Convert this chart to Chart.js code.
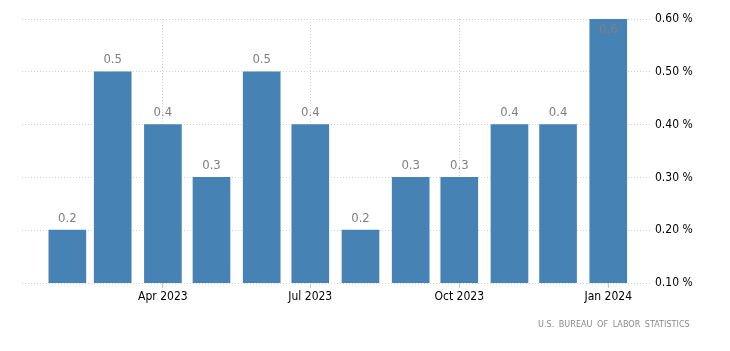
<!DOCTYPE html>
<html>
<head>
<meta charset="utf-8">
<script src="https://cdn.jsdelivr.net/npm/chart.js@4"></script>
<style>
	body { margin: 0; background: #fff; }
	#wrap { position: relative; width: 730px; height: 351px; }
	#source {
		position: absolute; left: 538px; top: 319px;
		font: 9px "DejaVu Sans Condensed", sans-serif;
		color: #8a8a8a; letter-spacing: 0; word-spacing: 2px;
		white-space: nowrap;
	}
</style>
</head>
<body>
<div id="wrap">
	<canvas id="cpiChart" width="730" height="351"></canvas>
	<div id="source">U.S. BUREAU OF LABOR STATISTICS</div>
</div>
<script>
//monthly change, Feb 2023 - Jan 2024

const months = ['Feb 2023', 'Mar 2023', 'Apr 2023', 'May 2023', 'Jun 2023', 'Jul 2023',
	'Aug 2023', 'Sep 2023', 'Oct 2023', 'Nov 2023', 'Dec 2023', 'Jan 2024'];
//days since 1 Feb 2023, so bars sit on a time-like axis
const dayOffsets = [0, 28, 59, 89, 120, 150, 181, 212, 242, 273, 303, 334];
const values = [0.2, 0.5, 0.4, 0.3, 0.5, 0.4, 0.2, 0.3, 0.3, 0.4, 0.4, 0.6];

const tickDays = [59, 150, 242, 334];
const tickLabels = ['Apr 2023', 'Jul 2023', 'Oct 2023', 'Jan 2024'];

const FONT = '"DejaVu Sans Condensed", sans-serif';

//value labels above bars (inside when no room)

const valueLabels = {
	id: 'valueLabels',
	afterDatasetsDraw(chart) {
		const ctx = chart.ctx;
		const meta = chart.getDatasetMeta(0);
		ctx.save();
		ctx.font = '13px ' + FONT;
		ctx.fillStyle = '#808080';
		ctx.textAlign = 'center';
		ctx.textBaseline = 'middle';
		meta.data.forEach((bar, i) => {
			let y = bar.y - 12;
			if (y < chart.chartArea.top + 2) y = bar.y + 11;
			ctx.fillText(values[i].toFixed(1), bar.x, y);
		});
		ctx.restore();
	}
};

const ctx = document.getElementById('cpiChart').getContext('2d');
const chart = new Chart(ctx, {
	type: 'bar',
	data: {
		datasets: [{
			data: dayOffsets.map((d, i) => ({ x: d, y: values[i] })),
			backgroundColor: '#4682b4',
			borderWidth: 0,
			barThickness: 37
		}]
	},
	options: {
		responsive: false,
		animation: false,
		layout: { padding: { left: 22, top: 19, right: 0, bottom: 0 } },
		plugins: {
			legend: { display: false },
			tooltip: { enabled: false }
		},
		scales: {
			x: {
				type: 'linear',
				min: -28,
				max: 361,
				offset: false,
				afterBuildTicks(scale) {
					scale.ticks = tickDays.map(v => ({ value: v }));
				},
				afterFit(scale) { scale.height = 68; },
				ticks: {
					autoSkip: false,
					maxRotation: 0,
					padding: 2,
					color: '#000',
					font: { family: FONT, size: 12 },
					callback: (v) => tickLabels[tickDays.indexOf(v)]
				},
				grid: { offset: false, color: '#d0d0d0', tickLength: 5, tickColor: '#c8c8c8' },
				border: { display: false, dash: [1, 2] }
			},
			y: {
				position: 'right',
				min: 0.1,
				max: 0.6,
				afterFit(scale) { scale.width = 78; },
				ticks: {
					stepSize: 0.1,
					padding: 3,
					color: '#000',
					font: { family: FONT, size: 12 },
					callback: (v) => v.toFixed(2) + ' %'
				},
				grid: { color: '#d0d0d0', drawTicks: false },
				border: { display: false, dash: [1, 2] }
			}
		}
	},
	plugins: [valueLabels]
});
</script>
</body>
</html>
